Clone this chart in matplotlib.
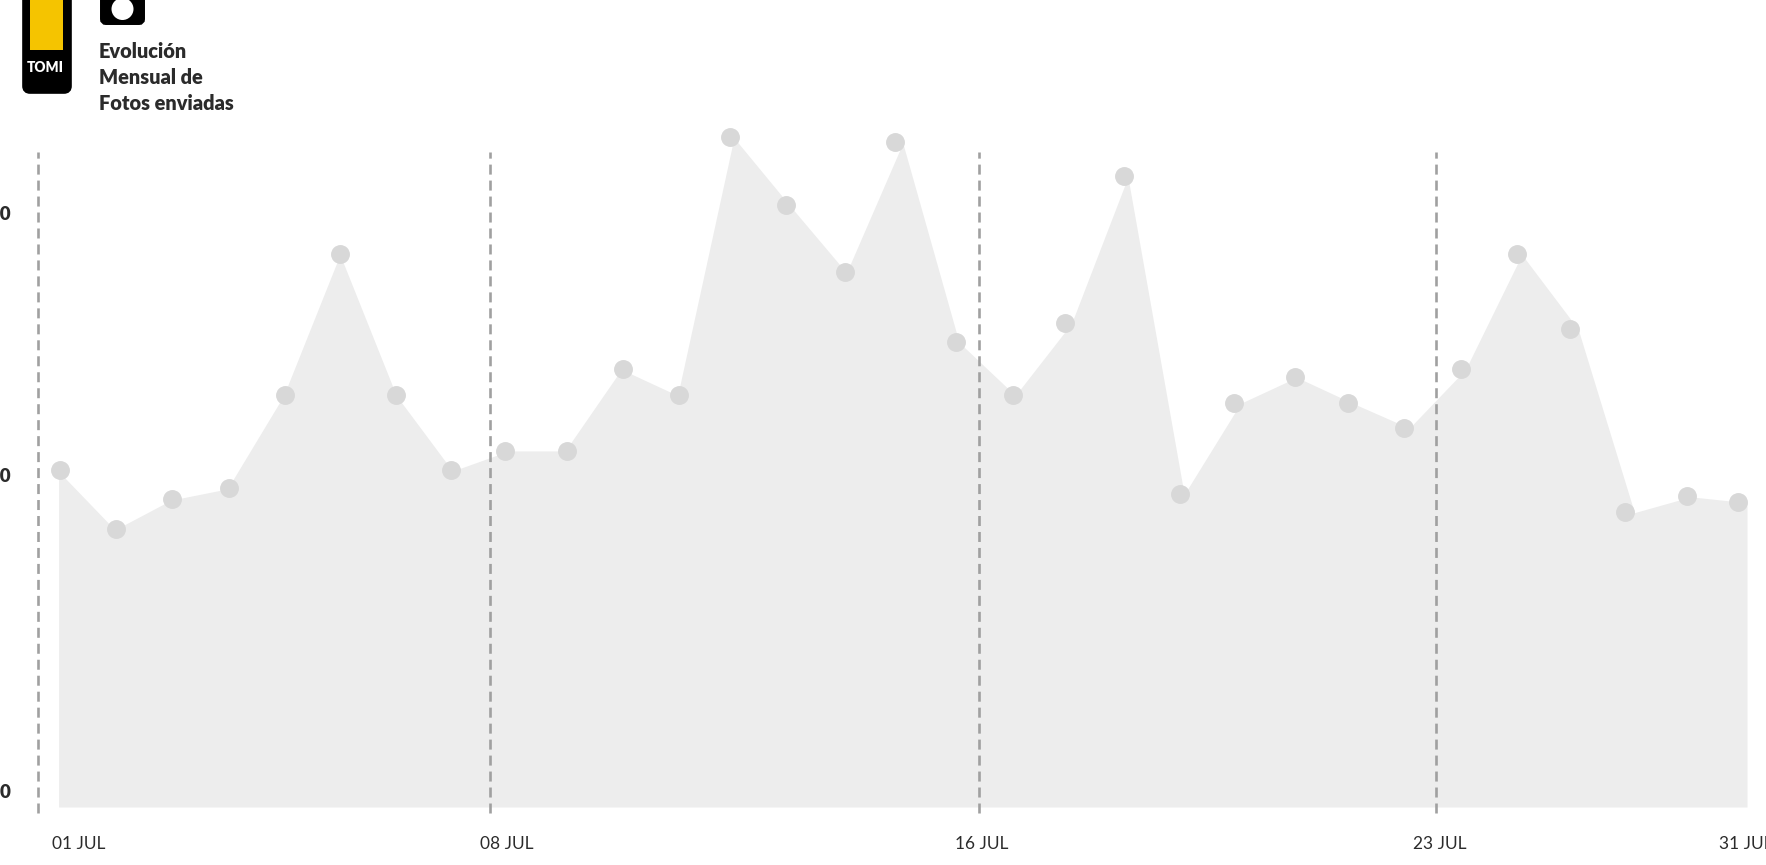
import matplotlib
matplotlib.use("Agg")
import matplotlib.pyplot as plt
from matplotlib.patches import FancyBboxPatch, Rectangle, Circle

plt.rcParams['font.family'] = ['Lato', 'DejaVu Sans']
plt.rcParams['lines.scale_dashes'] = False

days = list(range(1, 32))
area_values = [101.7, 84, 93, 96.4, 124.7, 167.4, 124.7, 101.8, 107.9, 107.9, 132.6, 124.7,
               202.8, 182.1, 161.9, 201.2, 140.8, 124.7, 146.6, 190.9, 94.7, 122.3,
               130.2, 122.3, 114.8, 132.6, 167.4, 144.8, 89.2, 94, 92.2]
marker_days = [1.02, 2.02, 3.02, 4.02, 5.02, 6.0, 7.0, 7.98, 8.94, 10.03, 11.03, 12.03,
               12.93, 13.93, 14.97, 15.87, 16.95, 17.95, 18.89, 19.93, 20.93, 21.89,
               22.97, 23.91, 24.91, 25.91, 26.92, 27.86, 28.84, 29.94, 30.84]
marker_values = [102, 84.3, 93.2, 96.6, 124.9, 167.6, 124.9, 102, 107.9, 107.9, 132.8, 124.9,
                 203, 182.3, 162.1, 201.4, 141, 124.9, 146.8, 191.1, 94.9, 122.5,
                 130.4, 122.5, 115, 132.8, 167.6, 145, 89.4, 94.2, 92.5]
divider_days = [0.64, 8.67, 17.36, 25.48]
divider_range = (-1.8, 198.5)
x_labels = ['01 JUL', '08 JUL', '16 JUL', '23 JUL', '31 JUL']
x_label_px = [52, 480, 955, 1413, 1719]
y_labels = ['100', '100', '0']
y_label_py = [215, 477, 792]
title_lines = ['Evolución', 'Mensual de', 'Fotos enviadas']
title_py = [52, 78, 104]

W, H = 1766, 865
fig = plt.figure(figsize=(W / 100, H / 100), dpi=100, facecolor='white')
ax = fig.add_axes([0, 0, 1, 1])
px_per_day = (1747 - 58.6) / 30
px_per_val = 3.30
ax.set_xlim(1 - 58.6 / px_per_day, 1 + (W - 58.6) / px_per_day)
ax.set_ylim(-(H - 807) / px_per_val, 807 / px_per_val)
ax.axis('off')

ax.fill_between(days, 0, area_values, color='#ededed', linewidth=0, zorder=1)
ax.vlines(divider_days, divider_range[0], divider_range[1], colors='#a0a0a0',
          linewidth=1.9, linestyles=(0, (7.2, 4.3)), zorder=2)
ax.scatter(marker_days, marker_values, s=185, color='#d8d8d8', linewidths=0, zorder=3)

# overlay in pixel coordinates for logo and labels
ov = fig.add_axes([0, 0, 1, 1])
ov.set_xlim(0, W)
ov.set_ylim(H, 0)
ov.axis('off')
ov.patch.set_alpha(0)

ov.add_patch(FancyBboxPatch((26, -20), 42, 110, boxstyle='round,pad=0,rounding_size=4',
                            fc='black', ec='black', lw=5.5))
ov.add_patch(Rectangle((30, -5), 33, 55, fc='#f5c400', ec='none'))
ov.text(45.5, 68, 'TOMI', color='white', fontsize=9.8, fontweight='heavy', ha='center', va='center')
ov.add_patch(FancyBboxPatch((103, -20), 39, 42, boxstyle='round,pad=0,rounding_size=3',
                            fc='black', ec='black', lw=4.3))
ov.add_patch(Circle((122.5, 9), 11, fc='white', ec='none'))

for txt, y in zip(title_lines, title_py):
    ov.text(99, y, txt, color='#2b2b2b', fontsize=14.4, fontweight='heavy', ha='left', va='center')
for txt, x in zip(x_labels, x_label_px):
    ov.text(x, 844, txt, color='#2b2b2b', fontsize=12.5, ha='left', va='center')
for txt, y in zip(y_labels, y_label_py):
    ov.text(11, y, txt, color='#2b2b2b', fontsize=13.5, fontweight='heavy', ha='right', va='center')

fig.savefig('out.png', dpi=100, facecolor='white')
